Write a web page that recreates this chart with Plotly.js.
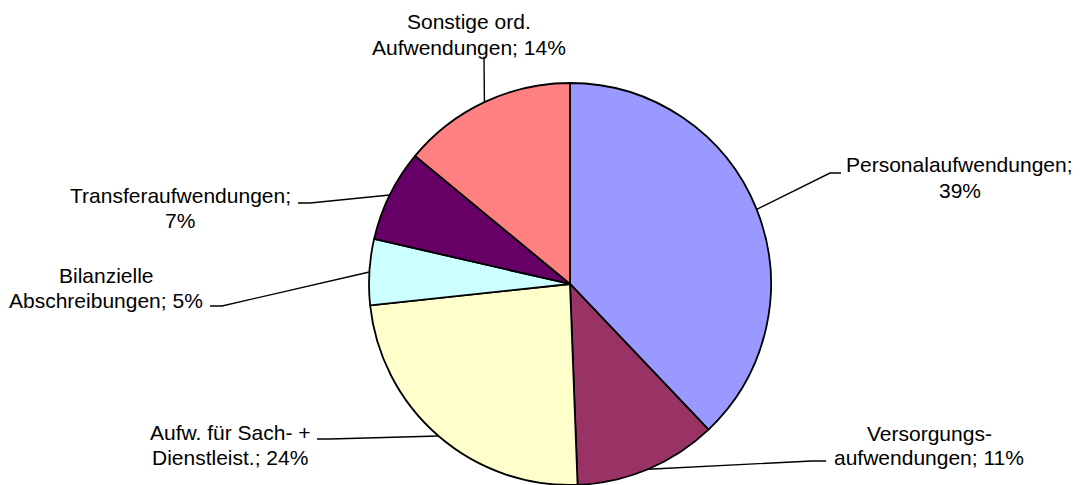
<!DOCTYPE html>
<html>
<head>
<meta charset="utf-8">
<script src="https://cdn.plot.ly/plotly-3.0.1.min.js"></script>
<style>html,body{margin:0;padding:0;background:#fff;}#chart{width:1081px;height:485px;}</style>
</head>
<body>
<div id="chart"></div>
<script>
// ---- data ----
const categories = ["Personalaufwendungen", "Versorgungs-\naufwendungen", "Aufw. für Sach- +\nDienstleist.", "Bilanzielle\nAbschreibungen", "Transferaufwendungen", "Sonstige ord.\nAufwendungen"];
const values = [37.9, 11.5, 23.9, 5.3, 7.4, 14.0];
const pctLabels = [39, 11, 24, 5, 7, 14];
const colors = ["#9999FF", "#993366", "#FFFFCC", "#CCFFFF", "#660066", "#FF8080"];

// ---- layout parameters (pixels) ----
const W = 1081, H = 485;
const domX = [(570 - 216) / W, (570 + 216) / W];
const domY = [0, 0.8289];
const labelPos = [
  {x: 960, y1: 164.5, y2: 190.8, end: [841, 173], elbow: [830, 173]},
  {x: 929, y1: 433,   y2: 457.5, end: [826, 461], elbow: [812, 461]},
  {x: 230, y1: 432.5, y2: 457.5, end: [317, 439], elbow: [330, 439]},
  {x: 106, y1: 275,   y2: 300.8, end: [210, 306], elbow: [222, 306]},
  {x: 180, y1: 195,   y2: 220.8, end: [298, 203], elbow: [310, 203]},
  {x: 469, y1: 21.7,  y2: 47.5,  end: [484, 57],  elbow: [484, 57]}
];
const FONT = {family: "Liberation Sans, Arial, sans-serif", size: 21, color: "#000"};

const px = x => x / W;
const py = y => 1 - y / H;

// pie geometry as Plotly computes it
const cx = W * (domX[0] + domX[1]) / 2;
const cy = H * (1 - (domY[0] + domY[1]) / 2);
const r = Math.min(W * (domX[1] - domX[0]), H * (domY[1] - domY[0])) / 2;

const total = values.reduce((a, b) => a + b, 0);
let cum = 0;
const annotations = [];
const shapes = [];
values.forEach((v, i) => {
  const mid = (cum + v / 2) / total * 2 * Math.PI;
  cum += v;
  const ax = cx + r * Math.sin(mid);
  const ay = cy - r * Math.cos(mid);
  const p = labelPos[i];
  const cat = categories[i];
  const txt = cat.includes("\n") ? cat + "; " + pctLabels[i] + "%" : cat + ";\n" + pctLabels[i] + "%";
  const lines = txt.split("\n");
  [p.y1, p.y2].forEach((yy, k) => {
    annotations.push({
      text: lines[k], x: px(p.x), y: py(yy), xref: "paper", yref: "paper",
      xanchor: "center", yanchor: "middle", showarrow: false, font: FONT
    });
  });
  shapes.push({
    type: "path", xref: "paper", yref: "paper",
    path: `M ${px(p.end[0])} ${py(p.end[1])} L ${px(p.elbow[0])} ${py(p.elbow[1])} L ${px(ax)} ${py(ay)}`,
    line: {color: "#000", width: 1.4}
  });
});

const trace = {
  type: "pie",
  labels: categories.map(c => c.replace("\n", " ")),
  values: values,
  sort: false,
  direction: "clockwise",
  rotation: 0,
  textinfo: "none",
  hoverinfo: "label+percent",
  marker: {colors: colors, line: {color: "#000", width: 1.8}},
  domain: {x: domX, y: domY},
  showlegend: false
};

const layout = {
  width: W, height: H,
  margin: {l: 0, r: 0, t: 0, b: 0},
  paper_bgcolor: "#fff",
  plot_bgcolor: "#fff",
  showlegend: false,
  font: FONT,
  annotations: annotations,
  shapes: shapes
};

Plotly.newPlot("chart", [trace], layout, {displayModeBar: false, staticPlot: true});
</script>
</body>
</html>
